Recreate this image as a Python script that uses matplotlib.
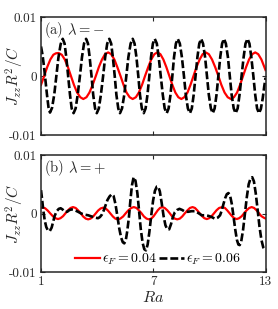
import numpy as np
import matplotlib
matplotlib.use("Agg")
import matplotlib.pyplot as plt

plt.rcParams['mathtext.fontset'] = 'cm'
plt.rcParams['axes.unicode_minus'] = False

# values, J_zz R^2 / C in units of 1e-3
# (a) lambda = -, eps_F = 0.06 (black dashed)
ra_a06 = [1.00, 1.08, 1.16, 1.24, 1.32, 1.40, 1.48,
          1.59, 1.71, 1.82, 1.93, 2.05, 2.16,
          2.26, 2.35, 2.45, 2.55, 2.64, 2.74,
          2.85, 2.96, 3.08, 3.19, 3.30, 3.41,
          3.51, 3.60, 3.70, 3.79, 3.89, 3.98,
          4.09, 4.20, 4.32, 4.43, 4.54, 4.65,
          4.75, 4.84, 4.94, 5.03, 5.13, 5.22,
          5.33, 5.45, 5.56, 5.67, 5.79, 5.90,
          6.00, 6.10, 6.20, 6.29, 6.39, 6.49,
          6.59, 6.69, 6.79, 6.88, 6.98, 7.08,
          7.19, 7.29, 7.40, 7.51, 7.61, 7.72,
          7.82, 7.92, 8.02, 8.11, 8.21, 8.31,
          8.42, 8.53, 8.64, 8.74, 8.85, 8.96,
          9.06, 9.16, 9.26, 9.36, 9.46, 9.56,
          9.66, 9.77, 9.87, 9.97, 10.08, 10.18,
          10.28, 10.38, 10.48, 10.58, 10.68, 10.78,
          10.88, 10.99, 11.09, 11.19, 11.30, 11.40,
          11.51, 11.61, 11.72, 11.83, 11.93, 12.04,
          12.14, 12.24, 12.35, 12.45, 12.55, 12.65,
          12.75, 12.85, 12.93, 13.00]
j_a06 = [5.0, 3.6, 1.6, -0.8, -3.2, -5.3, -6.2,
         -5.4, -3.1, 0.0, 3.1, 5.4, 6.3,
         5.5, 3.2, 0.0, -3.2, -5.5, -6.3,
         -5.5, -3.2, 0.0, 3.2, 5.5, 6.3,
         5.5, 3.2, 0.0, -3.2, -5.5, -6.3,
         -5.5, -3.2, 0.0, 3.2, 5.5, 6.3,
         5.5, 3.2, 0.0, -3.2, -5.5, -6.3,
         -5.5, -3.2, 0.0, 3.2, 5.5, 6.3,
         5.5, 3.2, 0.0, -3.2, -5.5, -6.3,
         -5.5, -3.2, 0.0, 3.2, 5.5, 6.3,
         5.5, 3.2, 0.0, -3.2, -5.5, -6.3,
         -5.5, -3.2, 0.0, 3.2, 5.5, 6.3,
         5.5, 3.2, 0.0, -3.2, -5.5, -6.3,
         -5.5, -3.2, 0.0, 3.2, 5.5, 6.3,
         5.5, 3.2, 0.0, -3.2, -5.5, -6.3,
         -5.5, -3.2, 0.0, 3.2, 5.5, 6.3,
         5.5, 3.2, 0.0, -3.2, -5.5, -6.3,
         -5.5, -3.2, 0.0, 3.2, 5.5, 6.3,
         5.5, 3.2, 0.0, -3.2, -5.5, -6.3,
         -5.6, -3.8, -1.8, -0.3]

# (a) lambda = -, eps_F = 0.04 (red)
ra_a04 = [1.00, 1.17, 1.33, 1.50, 1.66, 1.80, 1.94,
          2.11, 2.27, 2.44, 2.60, 2.76, 2.93, 3.10, 3.26,
          3.43, 3.59, 3.76, 3.93, 4.09, 4.26, 4.42, 4.59,
          4.75, 4.92, 5.08, 5.25, 5.41, 5.57, 5.74, 5.90,
          6.07, 6.23, 6.40, 6.56, 6.73, 6.89, 7.06, 7.22,
          7.38, 7.54, 7.70, 7.86, 8.02, 8.18, 8.34, 8.50,
          8.66, 8.83, 8.99, 9.15, 9.31, 9.48, 9.64, 9.80,
          9.97, 10.14, 10.31, 10.48, 10.64, 10.81, 10.98, 11.15,
          11.31, 11.48, 11.64, 11.80, 11.96, 12.12, 12.29, 12.45,
          12.61, 12.78, 12.94, 13.00]
j_a04 = [-1.5, 0.0, 1.5, 2.8, 3.6, 3.85, 3.9,
         3.6, 2.8, 1.5, 0.0, -1.5, -2.8, -3.6, -3.9,
         -3.6, -2.8, -1.5, 0.0, 1.5, 2.8, 3.7, 4.0,
         3.7, 2.8, 1.5, 0.0, -1.5, -2.8, -3.6, -3.9,
         -3.6, -2.8, -1.5, 0.0, 1.5, 2.8, 3.7, 4.0,
         3.7, 2.8, 1.5, 0.0, -1.5, -2.8, -3.6, -3.9,
         -3.6, -2.8, -1.5, 0.0, 1.5, 2.8, 3.7, 4.0,
         3.7, 2.8, 1.5, 0.0, -1.5, -2.8, -3.6, -3.9,
         -3.6, -2.8, -1.5, 0.0, 1.5, 2.8, 3.7, 4.0,
         3.7, 2.8, 1.5, 1.0]

# (b) lambda = +, eps_F = 0.06 (black dashed)
ra_b06 = [1.00, 1.06, 1.12, 1.20, 1.28, 1.37, 1.47, 1.57, 1.65, 1.73,
          1.84, 1.95, 2.05, 2.15, 2.27, 2.40, 2.52, 2.64, 2.78, 2.98,
          3.15, 3.34, 3.52, 3.70, 3.88, 4.05, 4.15, 4.25, 4.35, 4.45,
          4.55, 4.66, 4.78, 4.88, 4.98, 5.08, 5.18, 5.28, 5.37, 5.45,
          5.53, 5.61, 5.70, 5.78, 5.86, 5.95, 6.05, 6.15, 6.24, 6.33,
          6.43, 6.52, 6.61, 6.70, 6.79, 6.89, 6.99, 7.09, 7.19, 7.26,
          7.35, 7.45, 7.55, 7.65, 7.75, 7.85, 7.95, 8.05, 8.15, 8.27,
          8.40, 8.55, 8.70, 8.87, 9.05, 9.23, 9.40, 9.59, 9.78, 9.95,
          10.12, 10.30, 10.45, 10.57, 10.66, 10.75, 10.84, 10.93, 11.02, 11.11,
          11.20, 11.29, 11.38, 11.47, 11.55, 11.62, 11.70, 11.80, 11.90, 12.00,
          12.10, 12.20, 12.29, 12.38, 12.48, 12.58, 12.68, 12.78, 12.88, 13.00]
j_b06 = [4.0, 2.4, 0.6, -1.2, -2.3, -2.9, -3.0, -2.4, -1.4, -0.4,
         0.4, 0.8, 0.9, 0.7, 0.3, 0.3, 0.6, 0.7, 0.6, 0.3,
         0.0, -0.2, -0.3, -0.5, -0.7, -0.8, -0.6, -0.2, 0.5, 1.4,
         2.3, 2.9, 3.3, 3.0, 1.6, -0.4, -2.5, -4.1, -4.9, -5.1,
         -4.6, -3.0, -0.6, 2.3, 4.8, 6.2, 5.6, 3.5, 0.5, -2.6,
         -5.0, -6.1, -6.3, -5.3, -3.2, -0.4, 2.2, 3.9, 4.6, 4.6,
         3.8, 1.8, -0.4, -2.0, -2.7, -2.7, -1.8, -0.6, 0.2, 0.6,
         0.8, 0.6, 0.3, 0.3, 0.4, 0.4, 0.1, -0.3, -0.3, -0.4,
         -0.6, -0.9, -0.7, -0.3, 0.5, 1.6, 2.6, 3.3, 3.5, 3.0,
         1.6, -0.5, -2.7, -4.5, -5.3, -5.4, -4.8, -2.8, 0.0, 2.8,
         5.0, 6.0, 6.2, 5.5, 3.4, 0.6, -2.3, -4.5, -5.8, -6.3]

# (b) lambda = +, eps_F = 0.04 (red)
ra_b04 = [1.00, 1.08, 1.22, 1.36, 1.50, 1.63, 1.77, 1.91,
          2.04, 2.18, 2.31, 2.44, 2.58, 2.71,
          2.85, 2.98, 3.12, 3.25, 3.39, 3.52,
          3.65, 3.79, 3.92, 4.05, 4.19, 4.32,
          4.45, 4.58, 4.71, 4.84, 4.97, 5.10,
          5.24, 5.39, 5.53, 5.67, 5.82, 5.96,
          6.10, 6.23, 6.37, 6.50, 6.64, 6.77,
          6.89, 7.01, 7.13, 7.24, 7.36, 7.48,
          7.61, 7.75, 7.88, 8.01, 8.15, 8.28,
          8.42, 8.55, 8.69, 8.83, 8.96, 9.10,
          9.23, 9.35, 9.48, 9.61, 9.73, 9.86,
          9.99, 10.12, 10.25, 10.38, 10.52, 10.70,
          10.83, 10.95, 11.08, 11.21, 11.33, 11.46,
          11.59, 11.73, 11.86, 11.99, 12.13, 12.26,
          12.39, 12.52, 12.65, 12.78, 12.90, 13.00]
j_b04 = [1.0, 1.05, 0.9, 0.5, 0.0, -0.45, -0.8, -0.95,
         -0.8, -0.45, 0.05, 0.55, 0.95, 1.1,
         0.95, 0.55, 0.05, -0.5, -0.87, -1.0,
         -0.87, -0.5, 0.0, 0.5, 0.87, 1.0,
         0.87, 0.5, 0.0, -0.5, -0.87, -1.0,
         -0.87, -0.5, 0.05, 0.55, 0.95, 1.1,
         0.95, 0.55, 0.05, -0.5, -0.87, -1.0,
         -0.87, -0.5, 0.05, 0.55, 0.95, 1.1,
         0.95, 0.55, 0.05, -0.5, -0.87, -1.0,
         -0.87, -0.5, 0.05, 0.55, 0.95, 1.1,
         0.95, 0.55, 0.05, -0.45, -0.8, -0.95,
         -0.8, -0.45, 0.05, 0.55, 0.95, 1.1,
         0.95, 0.55, 0.05, -0.45, -0.8, -0.95,
         -0.8, -0.45, 0.05, 0.55, 0.95, 1.1,
         0.95, 0.55, 0.05, -0.45, -0.7, -0.85]

xticks = [1, 7, 13]
yticks = [-0.01, 0, 0.01]
ytick_labels = ['-0.01', '0', '0.01']
legend_labels = [r'$\epsilon_F = 0.04$', r'$\epsilon_F = 0.06$']
panel_titles = [r'(a) $\lambda = -$', r'(b) $\lambda = +$']

gray = '#262626'
fig = plt.figure(figsize=(2.78, 3.09), dpi=100)
ax1 = fig.add_axes([0.1475, 0.5631, 0.8076, 0.3819])
ax2 = fig.add_axes([0.1475, 0.1197, 0.8076, 0.3786])

data = [(ax1, ra_a04, j_a04, ra_a06, j_a06),
        (ax2, ra_b04, j_b04, ra_b06, j_b06)]

for i, (ax, x4, y4, x6, y6) in enumerate(data):
    ax.plot(x4, np.array(y4) * 1e-3, color='#ff0000', lw=1.6, label=legend_labels[0])
    ax.plot(x6, np.array(y6) * 1e-3, color='black', lw=1.9, dashes=(3.0, 1.1),
            label=legend_labels[1])
    ax.set_xlim(1, 13)
    ax.set_ylim(-0.01, 0.01)
    ax.set_xticks(xticks)
    ax.set_yticks(yticks)
    ax.set_yticklabels(ytick_labels, family='cmr10', fontsize=9.5, color=gray)
    ax.tick_params(direction='in', length=3, width=0.8, top=True, right=True,
                   colors=gray, pad=3)
    for s in ax.spines.values():
        s.set_color(gray)
        s.set_linewidth(1.1)
    ax.set_ylabel(r'$J_{zz}R^2/C$', fontsize=11, color=gray)
    ax.yaxis.set_label_coords(-0.068, 0.5)
    ax.text(0.012, 0.975, panel_titles[i], transform=ax.transAxes, ha='left', va='top',
            fontsize=10.5, family='cmr10', color=gray)

ax1.set_xticklabels([])
ax2.set_xticklabels([str(t) for t in xticks], family='cmr10', fontsize=9.5, color=gray)
ax2.set_xlabel(r'$Ra$', fontsize=11.5, color=gray, labelpad=1)

ax2.legend(loc='lower center', ncol=2, frameon=False, fontsize=10,
           handlelength=1.8, handletextpad=0.15, columnspacing=0.2,
           borderaxespad=0.1, bbox_to_anchor=(0.52, -0.02))

fig.savefig('out.png', dpi=100)
